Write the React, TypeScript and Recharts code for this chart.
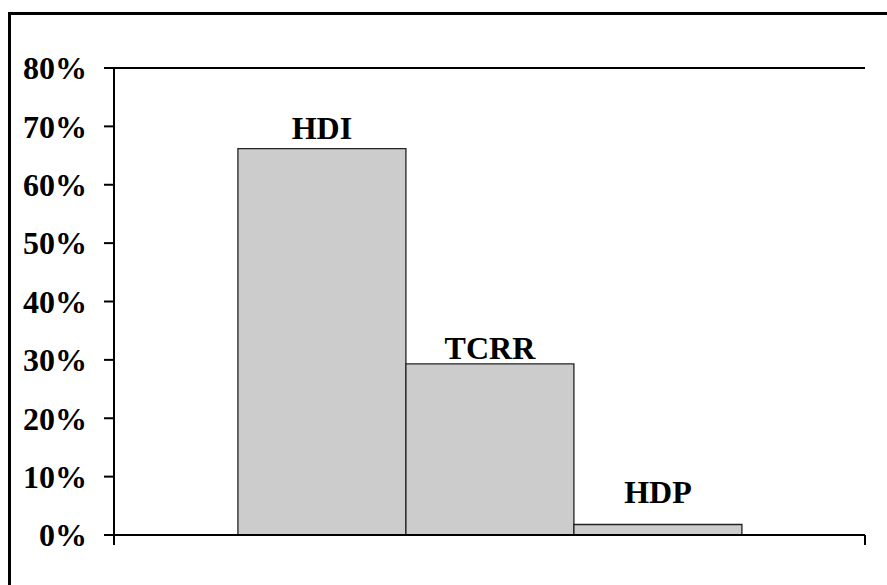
import { Bar, BarChart, LabelList, ReferenceLine, XAxis, YAxis } from 'recharts'

const CATEGORIES = ['']
const SERIES_NAMES = ['HDI', 'TCRR', 'HDP']
const SERIES_VALUES = [0.662, 0.293, 0.018]
const Y_TICKS = [0, 0.1, 0.2, 0.3, 0.4, 0.5, 0.6, 0.7, 0.8]

// label gap above each bar, as in the original
const LABEL_OFFSETS = [10, 5, 21]

const data = CATEGORIES.map((name) => {
  const row: Record<string, string | number> = { name }
  SERIES_NAMES.forEach((s, i) => {
    row[s] = SERIES_VALUES[i]
  })
  return row
})

const FONT = '"Liberation Serif", "Times New Roman", serif'
const AXIS = { stroke: '#000', strokeWidth: 2 }

export default function App() {
  return (
    <div
      style={{
        position: 'absolute',
        left: 0,
        top: 0,
        width: 887,
        height: 585,
        overflow: 'hidden',
        background: '#fff',
      }}
    >
      <div
        style={{
          position: 'absolute',
          left: 8,
          top: 12,
          width: 1000,
          height: 1000,
          border: '3px solid #000',
        }}
      />
      <div style={{ position: 'absolute', left: 0, top: 0 }}>
        <BarChart
          width={887}
          height={585}
          data={data}
          margin={{ top: 68, right: 22, left: 0, bottom: 20 }}
          barGap={0}
          barCategoryGap="16.5%"
        >
          <XAxis dataKey="name" height={30} axisLine={AXIS} tickLine={false} tick={false} />
          <YAxis
            domain={[0, 0.8]}
            ticks={Y_TICKS}
            width={114}
            tickSize={10}
            tickMargin={17}
            axisLine={AXIS}
            tickLine={AXIS}
            tickFormatter={(v: number) => `${Math.round(v * 100)}%`}
            tick={{ fill: '#000', fontSize: 32, fontWeight: 'bold', fontFamily: FONT }}
          />
          <YAxis
            yAxisId="right"
            orientation="right"
            domain={[0, 0.8]}
            width={0}
            axisLine={AXIS}
            tickLine={false}
            tick={false}
          />
          <ReferenceLine y={0.8} stroke="#000" strokeWidth={2} />
          <ReferenceLine
            segment={[{ x: '', y: 0 }, { x: '', y: -0.017 }]}
            position="start"
            ifOverflow="visible"
            stroke="#000"
            strokeWidth={2}
          />
          <ReferenceLine
            segment={[{ x: '', y: 0 }, { x: '', y: -0.017 }]}
            position="end"
            ifOverflow="visible"
            stroke="#000"
            strokeWidth={2}
          />
          {SERIES_NAMES.map((s, i) => (
            <Bar
              key={s}
              dataKey={s}
              fill="#cccccc"
              stroke="#222"
              strokeWidth={1.3}
              isAnimationActive={false}
            >
              <LabelList
                dataKey={s}
                position="top"
                offset={LABEL_OFFSETS[i]}
                formatter={() => s}
                fill="#000"
                fontSize={32}
                fontWeight="bold"
                fontFamily={FONT}
              />
            </Bar>
          ))}
        </BarChart>
      </div>
    </div>
  )
}
